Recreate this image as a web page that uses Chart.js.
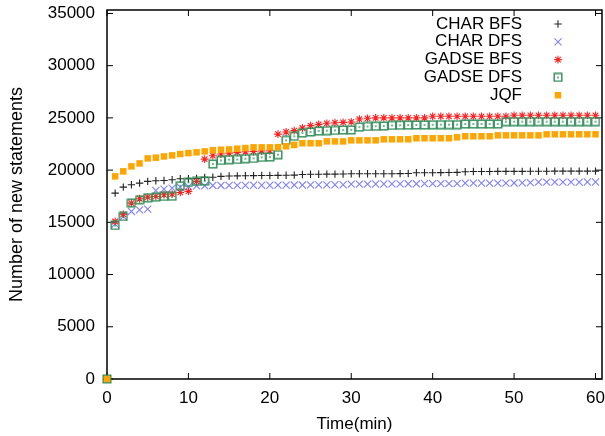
<!DOCTYPE html>
<html>
<head>
<meta charset="utf-8">
<script src="https://cdn.jsdelivr.net/npm/chart.js@4.4.0/dist/chart.umd.min.js"></script>
<style>
  html, body { margin: 0; padding: 0; background: #fff; }
  #wrap { width: 605px; height: 436px; }
</style>
</head>
<body>
<div id="wrap"><canvas id="chart" width="605" height="436"></canvas></div>
<script>
// time in minutes
const minutes = [
  0, 1, 2, 3, 4, 5, 6, 7, 8, 9,
  10, 11, 12, 13, 14, 15, 16, 17, 18, 19,
  20, 21, 22, 23, 24, 25, 26, 27, 28, 29,
  30, 31, 32, 33, 34, 35, 36, 37, 38, 39,
  40, 41, 42, 43, 44, 45, 46, 47, 48, 49,
  50, 51, 52, 53, 54, 55, 56, 57, 58, 59, 60
];

const charBfs = [
  0, 17800, 18370, 18600, 18750, 18920, 18980, 19000, 19080, 19170,
  19180, 19200, 19300, 19320, 19400, 19440, 19450, 19460, 19470, 19480,
  19490, 19500, 19510, 19520, 19580, 19600, 19610, 19620, 19620, 19630,
  19650, 19650, 19650, 19650, 19650, 19650, 19660, 19680, 19750, 19750,
  19750, 19760, 19770, 19780, 19850, 19860, 19870, 19870, 19880, 19880,
  19880, 19880, 19890, 19890, 19890, 19900, 19900, 19900, 19900, 19900, 19900
];

const charDfs = [
  0, 14830, 15560, 16040, 16200, 16270, 18050, 18180, 18280, 18370,
  18420, 18500, 18500, 18530, 18530, 18540, 18540, 18540, 18550, 18550,
  18550, 18560, 18560, 18570, 18570, 18580, 18580, 18590, 18600, 18600,
  18660, 18660, 18660, 18670, 18670, 18680, 18680, 18690, 18690, 18700,
  18700, 18700, 18700, 18700, 18750, 18750, 18750, 18750, 18750, 18760,
  18770, 18780, 18800, 18850, 18850, 18850, 18850, 18850, 18850, 18860, 18860
];

const gadseBfs = [
  0, 15080, 15770, 16840, 17260, 17410, 17480, 17640, 17710, 17860,
  17960, 18920, 21050, 21380, 21540, 21630, 21700, 21760, 21780, 21830,
  21850, 23450, 23650, 23780, 24030, 24260, 24380, 24480, 24540, 24570,
  24610, 24890, 24960, 25000, 25000, 25000, 25000, 25000, 25000, 25000,
  25150, 25150, 25150, 25150, 25150, 25150, 25150, 25150, 25150, 25150,
  25250, 25250, 25250, 25250, 25250, 25250, 25250, 25250, 25250, 25250, 25250
];

const gadseDfs = [
  0, 14700, 15560, 16840, 17160, 17350, 17410, 17480, 17500, 18500,
  18820, 18920, 18950, 20580, 20930, 21000, 21020, 21090, 21120, 21220,
  21250, 21480, 22850, 23240, 23550, 23650, 23740, 23780, 23800, 23840,
  23850, 24120, 24180, 24200, 24220, 24280, 24300, 24310, 24320, 24330,
  24340, 24350, 24350, 24350, 24410, 24410, 24410, 24410, 24410, 24640,
  24640, 24640, 24640, 24640, 24640, 24640, 24640, 24640, 24640, 24640, 24640
];

const jqf = [
  0, 19400, 19880, 20360, 20640, 21120, 21190, 21310, 21410, 21540,
  21630, 21700, 21790, 21900, 21950, 21980, 22050, 22110, 22180, 22180,
  22180, 22200, 22280, 22410, 22570, 22570, 22570, 22750, 22750, 22750,
  22850, 22850, 22850, 22850, 22950, 22950, 22950, 22950, 23050, 23050,
  23050, 23050, 23050, 23140, 23240, 23240, 23240, 23240, 23330, 23330,
  23330, 23330, 23330, 23330, 23430, 23430, 23430, 23430, 23430, 23430, 23430
];

const seriesNames = ['CHAR BFS', 'CHAR DFS', 'GADSE BFS', 'GADSE DFS', 'JQF'];
const xTicks = [0, 10, 20, 30, 40, 50, 60];
const yTicks = [0, 5000, 10000, 15000, 20000, 25000, 30000, 35000];

const FONT = '"Liberation Sans", Arial, Helvetica, sans-serif';

// open square with a dot in the middle (gnuplot pt 12 look)
function dotSquare(color) {
  const c = document.createElement('canvas');
  c.width = 10; c.height = 10;
  const g = c.getContext('2d');
  g.strokeStyle = color;
  g.lineWidth = 1.4;
  g.strokeRect(1.2, 1.2, 7.6, 7.6);
  g.fillStyle = color;
  g.fillRect(4.2, 4.2, 1.6, 1.6);
  return c;
}

function toPoints(vals) {
  return minutes.map((m, i) => ({ x: m, y: vals[i] }));
}

const styles = [
  { color: '#222222', pointStyle: 'cross', radius: 3.7, width: 1.1 },
  { color: '#8080ff', pointStyle: 'crossRot', radius: 5, width: 1.1 },
  { color: '#ff2020', pointStyle: 'star', radius: 3.9, width: 1.1 },
  { color: '#2e8b57', pointStyle: dotSquare('#2e8b57'), radius: 5, width: 1 },
  { color: '#ffa500', pointStyle: 'rect', radius: 4.6, width: 0, fill: true }
];

const allSeries = [charBfs, charDfs, gadseBfs, gadseDfs, jqf];

const datasets = allSeries.map((vals, i) => ({
  label: seriesNames[i],
  data: toPoints(vals),
  showLine: false,
  pointStyle: styles[i].pointStyle,
  pointRadius: styles[i].radius,
  pointHoverRadius: styles[i].radius,
  pointBorderWidth: styles[i].width,
  pointBorderColor: styles[i].color,
  pointBackgroundColor: styles[i].fill ? styles[i].color : 'rgba(0,0,0,0)',
  order: allSeries.length - i,  // later series drawn on top, like gnuplot
  clip: false
}));

// border box and inward mirrored ticks
const framePlugin = {
  id: 'frame',
  beforeDatasetsDraw(chart) {
    const { ctx, chartArea: a, scales } = chart;
    ctx.save();
    ctx.strokeStyle = '#000';
    ctx.lineWidth = 1.5;
    ctx.strokeRect(a.left, a.top, a.right - a.left, a.bottom - a.top);
    ctx.lineWidth = 1;
    ctx.beginPath();
    xTicks.forEach(v => {
      const px = scales.x.getPixelForValue(v);
      ctx.moveTo(px, a.bottom); ctx.lineTo(px, a.bottom - 6);
      ctx.moveTo(px, a.top); ctx.lineTo(px, a.top + 6);
    });
    yTicks.forEach(v => {
      const py = scales.y.getPixelForValue(v);
      ctx.moveTo(a.left, py); ctx.lineTo(a.left + 6, py);
      ctx.moveTo(a.right, py); ctx.lineTo(a.right - 6, py);
    });
    ctx.stroke();
    ctx.restore();
  }
};

// gnuplot style key: right aligned text, sample to the right
const keyPlugin = {
  id: 'key',
  afterDraw(chart) {
    const { ctx } = chart;
    ctx.save();
    ctx.font = '17px ' + FONT;
    ctx.textAlign = 'right';
    ctx.textBaseline = 'middle';
    seriesNames.forEach((name, i) => {
      const y = 24 + i * 17.8;
      ctx.fillStyle = '#000';
      ctx.fillText(name, 522, y);
      const s = styles[i];
      ctx.strokeStyle = s.color;
      ctx.fillStyle = s.fill ? s.color : 'rgba(0,0,0,0)';
      ctx.lineWidth = s.width;
      Chart.helpers.drawPoint(ctx, {
        pointStyle: s.pointStyle, radius: s.radius, rotation: 0, borderWidth: s.width
      }, 558, y);
    });
    ctx.restore();
  }
};

new Chart(document.getElementById('chart').getContext('2d'), {
  type: 'scatter',
  data: { datasets: datasets },
  options: {
    responsive: false,
    animation: false,
    events: [],
    layout: { autoPadding: false, padding: { top: 10, right: 3, left: 0, bottom: 0 } },
    plugins: {
      legend: { display: false },
      tooltip: { enabled: false }
    },
    scales: {
      x: {
        type: 'linear',
        min: 0,
        max: 60.8,
        grid: { display: false, drawTicks: false },
        border: { display: false },
        afterBuildTicks(scale) { scale.ticks = xTicks.map(v => ({ value: v })); },
        ticks: {
          color: '#000',
          padding: 9,
          maxRotation: 0,
          autoSkip: false,
          callback: v => String(v),
          font: { family: FONT, size: 17 }
        },
        title: {
          display: true,
          text: 'Time(min)',
          color: '#000',
          font: { family: FONT, size: 17 },
          padding: { top: 0, bottom: 1.5 }
        },
        afterFit(scale) {
          scale.height = 57;
          scale.paddingLeft = 0;
          scale.paddingRight = 0;
        }
      },
      y: {
        type: 'linear',
        min: 0,
        max: 35330,
        grid: { display: false, drawTicks: false },
        border: { display: false },
        afterBuildTicks(scale) { scale.ticks = yTicks.map(v => ({ value: v })); },
        ticks: {
          color: '#000',
          padding: 12,
          autoSkip: false,
          callback: v => String(v),
          font: { family: FONT, size: 17 }
        },
        title: {
          display: true,
          text: 'Number of new statements',
          color: '#000',
          font: { family: FONT, size: 18 },
          padding: { top: 6, bottom: 0 }
        },
        afterFit(scale) {
          scale.width = 107;
          scale.paddingTop = 0;
          scale.paddingBottom = 0;
        }
      }
    }
  },
  plugins: [framePlugin, keyPlugin]
});
</script>
</body>
</html>
